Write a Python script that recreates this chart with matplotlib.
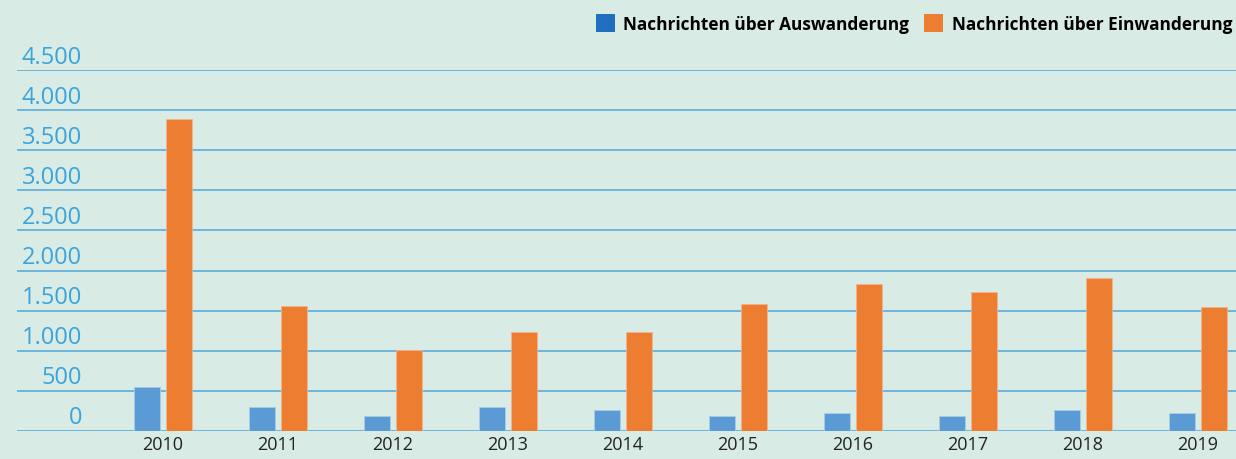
import matplotlib
matplotlib.use("Agg")
import matplotlib.pyplot as plt
from matplotlib.patches import Patch
from matplotlib.transforms import ScaledTranslation
import numpy as np

years = ["2010", "2011", "2012", "2013", "2014", "2015", "2016", "2017", "2018", "2019"]
auswanderung = [546, 296, 187, 296, 258, 187, 221, 187, 258, 221]
einwanderung = [3888, 1555, 1013, 1229, 1229, 1588, 1838, 1729, 1908, 1550]
y_ticks = [0, 500, 1000, 1500, 2000, 2500, 3000, 3500, 4000, 4500]
y_labels = ["0", "500", "1.000", "1.500", "2.000", "2.500", "3.000", "3.500", "4.000", "4.500"]

bg = "#d9ebe5"
c_blue = "#5b9bd5"
c_orange = "#ed7d31"
c_grid = "#4ea6d9"
c_ylab = "#3ba4dc"

plt.rcParams['font.family'] = ['Open Sans', 'DejaVu Sans']

fig = plt.figure(figsize=(12.36, 4.6), dpi=100)
fig.patch.set_facecolor(bg)
ax = fig.add_axes([17 / 1236, 28 / 460, 1 - 17 / 1236, (432 - 71) / 460])
ax.set_facecolor(bg)

x = np.arange(len(years))
w = 0.224
ax.bar(x - 0.142, auswanderung, w, color=c_blue, edgecolor="#a9cbe8", linewidth=0.6, zorder=3)
ax.bar(x + 0.142, einwanderung, w, color=c_orange, edgecolor="#f3b48c", linewidth=0.6, zorder=3)

# 115 px per year, 2010 centred at px 163
ax.set_xlim(-1.2696, 9.330)
ax.set_ylim(0, 4500)
ax.set_xticks(x)
ax.set_xticklabels(years, fontsize=13, color="#222222")
ax.set_yticks(y_ticks)
ax.set_yticklabels(y_labels, fontsize=17, color=c_ylab)
ax.tick_params(axis='x', length=0, pad=3)
ax.tick_params(axis='y', length=0, pad=-46.8)
for lab in ax.get_yticklabels():
    lab.set_verticalalignment('bottom')
    lab.set_horizontalalignment('right')
    lab.set_transform(lab.get_transform() + ScaledTranslation(0, 1.5 / 100, fig.dpi_scale_trans))

ax.grid(axis='y', color=c_grid, linewidth=1.1, zorder=1)
ax.set_axisbelow(True)
for s in ax.spines.values():
    s.set_visible(False)

handles = [Patch(facecolor="#1f6fbe", label="Nachrichten über Auswanderung"),
           Patch(facecolor=c_orange, label="Nachrichten über Einwanderung")]
fig.legend(handles=handles, loc='upper right', bbox_to_anchor=(1232 / 1236, 1 - 15 / 460), ncol=2,
           frameon=False, prop={'weight': 'bold', 'size': 12.4}, handlelength=1.1, handleheight=1.2,
           handletextpad=0.5, columnspacing=0.85, borderaxespad=0, borderpad=0)

fig.savefig("out.png", dpi=100, facecolor=bg)
